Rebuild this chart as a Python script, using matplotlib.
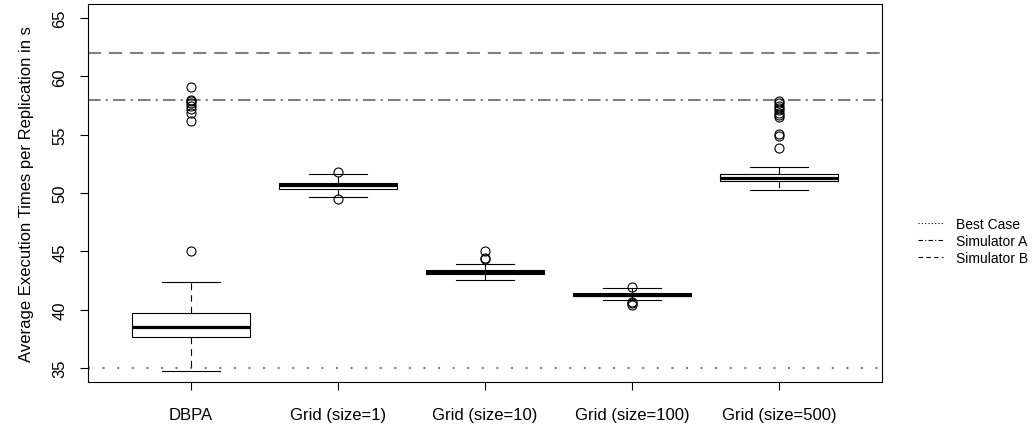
import matplotlib
matplotlib.use("Agg")
import matplotlib.pyplot as plt
from matplotlib.lines import Line2D

plt.rcParams['font.family'] = ['Liberation Sans', 'DejaVu Sans']

# data
labels = ['DBPA', 'Grid (size=1)', 'Grid (size=10)', 'Grid (size=100)', 'Grid (size=500)']
q1 = [37.7, 50.35, 43.05, 41.15, 51.0]
med = [38.55, 50.65, 43.2, 41.3, 51.25]
q3 = [39.75, 50.9, 43.4, 41.45, 51.6]
whislo = [34.75, 49.65, 42.55, 40.85, 50.25]
whishi = [42.4, 51.65, 43.95, 41.9, 52.2]
fliers = [
    [45.0, 56.2, 56.9, 57.2, 57.5, 57.7, 57.9, 58.0, 59.1],
    [49.45, 51.8],
    [44.35, 44.45, 45.05],
    [40.4, 40.55, 40.7, 41.95],
    [53.9, 54.9, 55.1, 56.5, 56.7, 56.9, 57.1, 57.3, 57.5, 57.7, 57.85],
]

ref_names = ['Best Case', 'Simulator A', 'Simulator B']
ref_values = [35, 58, 62]

yticks = [35, 40, 45, 50, 55, 60, 65]

fig = plt.figure(figsize=(10.35, 4.39), dpi=100)
ax = fig.add_axes([88 / 1035, 1 - 383 / 439, (882 - 88) / 1035, (383 - 5) / 439])

stats = []
for i in range(len(labels)):
    stats.append(dict(q1=q1[i], med=med[i], q3=q3[i], whislo=whislo[i],
                      whishi=whishi[i], fliers=fliers[i], label=labels[i]))

ax.bxp(stats, positions=range(1, len(labels) + 1), widths=0.8, patch_artist=True,
       boxprops=dict(facecolor='white', edgecolor='black', linewidth=0.8),
       medianprops=dict(color='black', linewidth=2.3, solid_capstyle='butt'),
       whiskerprops=dict(color='black', linewidth=0.8, linestyle=(0, (6, 4.5))),
       capprops=dict(color='black', linewidth=0.8),
       capwidths=0.4,
       flierprops=dict(marker='o', markerfacecolor='none', markeredgecolor='black',
                       markersize=6.5, markeredgewidth=0.8))

# reference lines (gray)
ref_styles = [(0, (1, 6)), (0, (6, 2.5, 1, 2.5)), (0, (6.3, 3.8))]
for val, ls in zip(ref_values, ref_styles):
    ax.axhline(val, color='#808080', linewidth=1.5, linestyle=ls, zorder=0)

ax.set_xlim(0.3, 5.7)
ax.set_ylim(33.8, 66.2)
ax.set_yticks(yticks)
ax.set_yticklabels([str(t) for t in yticks], rotation=90, va='center')
ax.tick_params(axis='both', labelsize=12, length=6, width=0.8, direction='out')
ax.tick_params(axis='y', pad=9)
ax.tick_params(axis='x', pad=12)
ax.set_ylabel('Average Execution Times per Replication in s', fontsize=12, labelpad=13)

for s in ax.spines.values():
    s.set_linewidth(0.8)

handles = [Line2D([], [], color='black', linewidth=0.8, linestyle=ls)
           for ls in [(0, (1, 2)), (0, (4, 2, 1, 2)), (0, (4, 3))]]
fig.legend(handles, ref_names, loc='center left', bbox_to_anchor=(918 / 1035, 1 - 242 / 439),
           frameon=False, fontsize=10, handlelength=1.8, handletextpad=0.9,
           borderpad=0, borderaxespad=0, labelspacing=0.2)

fig.savefig('out.png', dpi=100)
